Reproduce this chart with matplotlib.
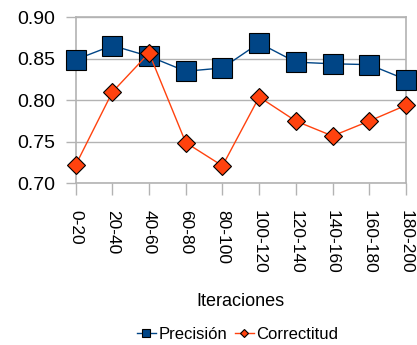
import matplotlib.pyplot as plt

plt.rcParams["font.family"] = ["Liberation Sans", "DejaVu Sans"]

iteraciones = ["0-20", "20-40", "40-60", "60-80", "80-100",
               "100-120", "120-140", "140-160", "160-180", "180-200"]
precision = [0.849, 0.866, 0.853, 0.835, 0.839, 0.869, 0.846, 0.844, 0.843, 0.825]
correctitud = [0.722, 0.810, 0.857, 0.749, 0.721, 0.804, 0.775, 0.757, 0.775, 0.794]

grey = "#b3b3b3"

fig = plt.figure(figsize=(4.17, 3.45), dpi=100)
ax = fig.add_axes([0.1815, 0.4687, 0.792, 0.4811])

x = range(len(iteraciones))
ax.plot(x, precision, color="#004586", lw=1, marker="s", ms=14,
        mfc="#004586", mec="black", mew=0.8, clip_on=False, label="Precisión", zorder=3)
ax.plot(x, correctitud, color="#ff420e", lw=1, marker="D", ms=9.5,
        mfc="#ff420e", mec="black", mew=0.8, clip_on=False, label="Correctitud", zorder=4)

ax.set_xlim(0, len(iteraciones) - 1)
ax.set_ylim(0.70, 0.90)
ax.set_yticks([0.70, 0.75, 0.80, 0.85, 0.90])
ax.set_yticklabels(["0.70", "0.75", "0.80", "0.85", "0.90"], fontsize=14)
ax.set_xticks(list(x))
ax.set_xticklabels(iteraciones, rotation=270, fontsize=12.5)

ax.grid(axis="y", color=grey, lw=1)
ax.set_axisbelow(True)
for s in ax.spines.values():
    s.set_color(grey)
    s.set_linewidth(1.2)
ax.tick_params(axis="y", length=7.5, color=grey, width=1, pad=7)
ax.tick_params(axis="x", length=8.5, color=grey, width=1, pad=11)

fig.text(0.5755, 0.125, "Iteraciones", ha="center", va="center", fontsize=13)
fig.legend(loc="center", bbox_to_anchor=(0.57, 0.03), ncol=2, frameon=False,
           fontsize=12, handlelength=1.1, handletextpad=0.15, columnspacing=0.5,
           markerscale=0.45)

fig.savefig("out.png", dpi=100)
